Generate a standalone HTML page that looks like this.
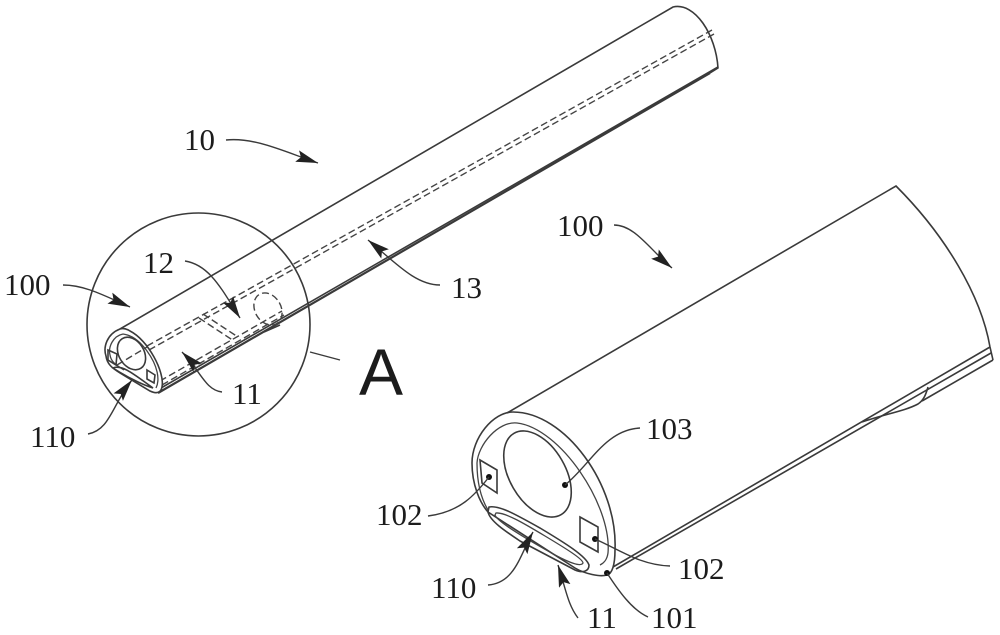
<!DOCTYPE html>
<html><head><meta charset="utf-8"><style>
html,body{margin:0;padding:0;background:#fff}
svg{display:block}
text{font-family:"Liberation Serif",serif;font-size:31px;fill:#1c1c1c}
.l{fill:none;stroke:#3a3a3a;stroke-width:1.6}
.t{fill:none;stroke:#444;stroke-width:1.3}
.d{fill:none;stroke:#444;stroke-width:1.4;stroke-dasharray:7 3.5}
.a{fill:none;stroke:#3a3a3a;stroke-width:1.4}
</style></head><body>
<svg width="1000" height="635" viewBox="0 0 1000 635" xmlns="http://www.w3.org/2000/svg">
<defs><marker id="m" markerUnits="userSpaceOnUse" markerWidth="24" markerHeight="14" refX="22" refY="6" orient="auto"><path d="M0 0L22 6L0 12L4 6Z" fill="#222"/></marker></defs>

<!-- small tube -->
<circle class="l" cx="198.500" cy="324.500" r="111.500"/>
<path class="l" d="M120 329L673 7C695 2 716 35 718 68L710 73"/>
<path class="l" style="stroke-width:2.200" d="M158 393L710 73"/>
<path class="l" d="M161 388L718 67"/>
<path class="d" d="M147 346L712 30M149 350L714 34"/>
<path class="d" d="M160 381L282 311M162 385L284 315"/>
<path class="d" d="M203 314L238 337M199 318L234 341"/>
<ellipse class="d" cx="268" cy="309" rx="13" ry="17" transform="rotate(-30 268 309)"/>
<path class="l" d="M280 325L264 332"/>
<path d="M120 329C107 334 103 347 106 356C107 364 112 368 120 373L150 391C156 394 161 393 162 387C165 372 148 340 130 331C127 329 123 328 120 329Z" fill="#fff" stroke="#3a3a3a" stroke-width="1.6"/>
<path class="t" d="M123 334C113 336 108 347 110 355C111 362 116 365 124 370M156 388C160 380 158 366 147 351C139 340 131 335 123 334"/>
<ellipse class="l" cx="131.500" cy="353.500" rx="12.500" ry="17.500" transform="rotate(-32 131.500 353.500)"/>
<path class="l" d="M108 350L117 354L116 365L108 360ZM147 370L155 375L154 383L147 379Z"/>
<path class="l" d="M113 368C122 364 135 375 153 388C140 384 122 374 113 368Z"/>
<path class="d" d="M117 365L147 347"/>

<!-- big tube -->
<path class="l" d="M507 413L896 186C945 235 981 295 990 347L993 360"/>
<path class="l" d="M613 567L990 347M616 569L991 353M922 401L993 360"/>
<path class="l" d="M862 422C885 414 905 411 918 404C924 400 926 394 928 387"/>
<path class="l" d="M513 412C493 412 472 438 472 463C472 485 480 503 488 512L575 568C585 574 600 577 607 575C612 574 615 565 615 550C618 485 565 412 513 412Z"/>
<path class="t" d="M488 510C482 500 477 485 477 463C478 445 498 421 517 423C560 428 612 505 608 553C607 560 604 563 600 565"/>
<ellipse class="l" cx="537.500" cy="474" rx="28" ry="47" transform="rotate(-30 537.500 474)"/>
<path class="l" d="M480 460L497 470L497 493L482 483ZM580 517L598 527L598 552L580 542Z"/>
<path class="l" d="M489 507C499 505 515 514 540 528C565 543 586 556 589 565C589 572 582 573 575 570L520 541C505 531 490 521 488 512Z"/>
<path class="t" d="M496 513C505 512 525 524 545 536C565 548 583 559 583 563C581 567 570 563 555 555C530 541 497 522 495 515Z"/>
<circle cx="489" cy="477" r="3" fill="#111"/><circle cx="595" cy="539" r="3" fill="#111"/><circle cx="565" cy="485" r="3" fill="#111"/><circle cx="607" cy="573" r="3" fill="#111"/>

<!-- leaders -->
<path class="a" marker-end="url(#m)" d="M226 140C255 137 285 152 318 163"/>
<path class="a" marker-end="url(#m)" d="M63 285C85 285 105 296 130 307"/>
<path class="a" marker-end="url(#m)" d="M185 261C210 265 222 290 240 318"/>
<path class="a" marker-end="url(#m)" d="M440 285C415 285 395 262 368 240"/>
<path class="a" marker-end="url(#m)" d="M222 392C205 390 200 370 182 352"/>
<path class="a" marker-end="url(#m)" d="M88 434C110 430 112 405 132 380"/>
<path class="a" marker-end="url(#m)" d="M614 225C635 225 650 250 672 268"/>
<path class="a" d="M640 428C605 430 590 465 565 485"/>
<path class="a" d="M428 516C460 512 475 495 489 477"/>
<path class="a" d="M670 566C640 565 620 550 595 539"/>
<path class="a" marker-end="url(#m)" d="M488 585C515 583 520 555 533 532"/>
<path class="a" marker-end="url(#m)" d="M578 618C568 605 566 590 558 565"/>
<path class="a" d="M648 617C632 610 618 590 607 573"/>
<path class="a" d="M310 352L340 360"/>

<!-- labels -->
<text x="184" y="150">10</text>
<text x="4" y="295">100</text>
<text x="143" y="273">12</text>
<text x="451" y="298">13</text>
<text x="232" y="404">11</text>
<text x="30" y="447">110</text>
<text x="557" y="236">100</text>
<text x="646" y="439">103</text>
<text x="376" y="525">102</text>
<text x="678" y="579">102</text>
<text x="431" y="598">110</text>
<text x="587" y="628">11</text>
<text x="651" y="628">101</text>
<text x="359" y="395" style="font-family:'Liberation Sans',sans-serif;font-size:66px">A</text>
</svg>
</body></html>
